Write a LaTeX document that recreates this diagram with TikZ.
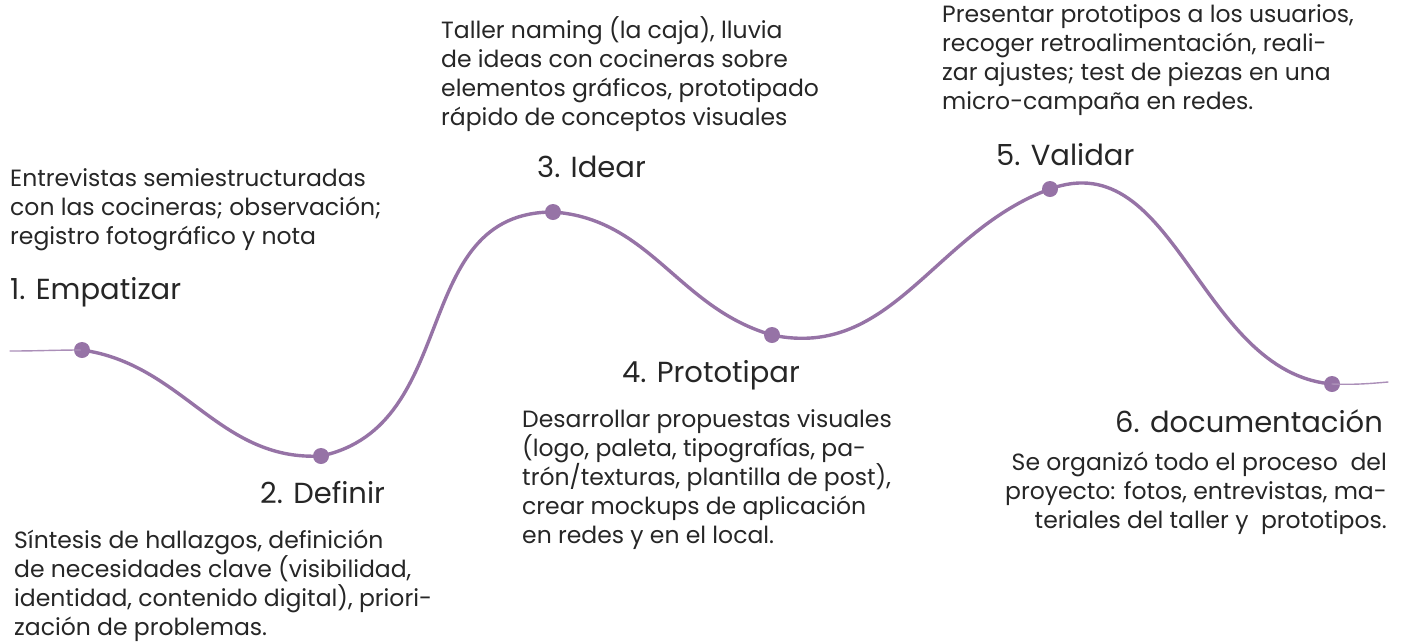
\documentclass[tikz,border=0pt]{standalone}
\usepackage{fontspec}
\setmainfont{Poppins}
\usepackage{tikz}
\definecolor{lila}{RGB}{150,115,166}
\definecolor{ink}{RGB}{38,38,38}
\tikzstyle{dot} = [circle, fill=lila, inner sep=0pt, minimum size=16pt]
\tikzstyle{stage} = [inner sep=0pt, text=ink, font=\fontsize{29}{34}\selectfont]
\tikzstyle{note} = [inner sep=0pt, text=ink, align=left, font=\fontsize{23.5}{29}\selectfont]
\tikzstyle{curve} = [lila, line width=3.4pt, line cap=round]
\tikzstyle{tail} = [lila!80, line width=1.4pt, line cap=round]

\begin{document}
\begin{tikzpicture}[x=1pt, y=1pt]
        \useasboundingbox (0,0) rectangle (1402,-641);

        % Nodes
        \coordinate (start) at (10,-351);
        \coordinate (end) at (1388,-382);
        \node (p1) [dot] at (82,-350) {};
        \node (p2) [dot] at (321,-456) {};
        \node (p3) [dot] at (553,-212) {};
        \node (p4) [dot] at (772,-335) {};
        \node (p5) [dot] at (1050,-189) {};
        \node (p6) [dot] at (1332,-384) {};

        \node (empatizar) [stage, anchor=north west] at (10,-277) {1. Empatizar};
        \node (definir) [stage, anchor=north west] at (260,-481) {2. Definir};
        \node (idear) [stage, anchor=north west] at (537,-156) {3. Idear};
        \node (prototipar) [stage, anchor=north west] at (622,-360) {4. Prototipar};
        \node (validar) [stage, anchor=north west] at (996,-143) {5. Validar};
        \node (documentar) [stage, anchor=north east] at (1383,-409) {6. documentación};

        \node (empatizar-txt) [note, anchor=north west] at (10,-168) {
            Entrevistas semiestructuradas\\
            con las cocineras; observación;\\
            registro fotográfico y nota};
        \node (definir-txt) [note, anchor=north west] at (14,-530) {
            Síntesis de hallazgos, definición\\
            de necesidades clave (visibilidad,\\
            identidad, contenido digital), priori-\\
            zación de problemas.};
        \node (idear-txt) [note, anchor=north west] at (441,-16) {
            Taller naming (la caja), lluvia\\
            de ideas con cocineras sobre\\
            elementos gráficos, prototipado\\
            rápido de conceptos visuales};
        \node (prototipar-txt) [note, anchor=north west] at (522,-409) {
            Desarrollar propuestas visuales\\
            (logo, paleta, tipografías, pa-\\
            trón/texturas, plantilla de post),\\
            crear mockups de aplicación\\
            en redes y en el local.};
        \node (validar-txt) [note, anchor=north west] at (942,-4) {
            Presentar prototipos a los usuarios,\\
            recoger retroalimentación, reali-\\
            zar ajustes; test de piezas en una\\
            micro-campaña en redes.};
        \node (documentar-txt) [note, align=right, anchor=north east] at (1387,-452) {
            Se organizó todo el proceso\ \ del\\
            proyecto: fotos, entrevistas, ma-\\
            teriales del taller y\ \ prototipos.};

        % Curve
        \draw [tail] (start) to[out=0, in=180] (p1.center);
        \draw [curve] (p1.center) to[out=-8, in=183] (p2.center)
            to[out=12, in=180, looseness=1.1] (p3.center)
            to[out=-4, in=164] (p4.center)
            to[out=-12, in=200] (p5.center)
            to[out=20, in=175] (p6.center);
        \draw [tail] (p6.center) to[out=-2, in=185] (end);

    \end{tikzpicture}
\end{document}
